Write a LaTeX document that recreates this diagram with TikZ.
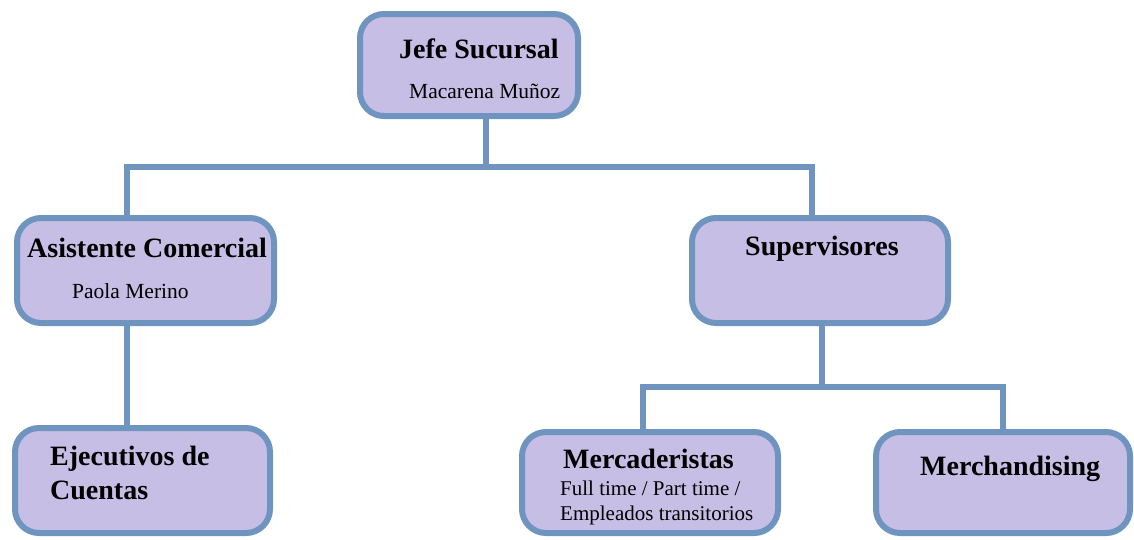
\documentclass[tikz,border=0pt]{standalone}
\usepackage{fontspec}
\setmainfont{Liberation Serif}
\definecolor{boxline}{RGB}{112,148,192}
\definecolor{boxfill}{RGB}{198,190,229}
\tikzset{
  orgbox/.style={draw=boxline, fill=boxfill, line width=6pt, rounded corners=24pt, inner sep=0pt},
  conn/.style={draw=boxline, line width=6pt},
  ttl/.style={anchor=base west, inner sep=0pt, font=\fontsize{28}{32}\selectfont\bfseries},
  sub/.style={anchor=base west, inner sep=0pt, font=\fontsize{21.5}{25}\selectfont},
  sub2/.style={anchor=base west, inner sep=0pt, font=\fontsize{21}{25}\selectfont},
}
\begin{document}
\begin{tikzpicture}[x=1pt,y=-1pt]
\useasboundingbox (0,0) rectangle (1134,539);
% boxes
\node[orgbox, minimum width=218pt, minimum height=102pt] (jefe) at (469,65) {};
\node[orgbox, minimum width=257pt, minimum height=105pt] (asist) at (145.5,270.5) {};
\node[orgbox, minimum width=256pt, minimum height=105pt] (sup) at (820,270.5) {};
\node[orgbox, minimum width=255pt, minimum height=105pt] (ejec) at (142.5,480.5) {};
\node[orgbox, minimum width=256pt, minimum height=101pt] (merc) at (650,482.5) {};
\node[orgbox, minimum width=254pt, minimum height=101pt] (merch) at (1003,482.5) {};
% junctions
\coordinate (j1) at (486,167);
\coordinate (c1) at (127,167);
\coordinate (c2) at (812,167);
\coordinate (j2) at (822,387);
\coordinate (d1) at (643,387);
\coordinate (d2) at (1003,387);
\coordinate (e1) at (127,0);
% connectors
\draw[conn] (j1 |- jefe.south) -- (j1);
\draw[conn] (c1 |- asist.north) -- (c1) -- (c2) -- (c2 |- sup.north);
\draw[conn] (j2 |- sup.south) -- (j2);
\draw[conn] (d1 |- merc.north) -- (d1) -- (d2) -- (d2 |- merch.north);
\draw[conn] (e1 |- asist.south) -- (e1 |- ejec.north);
% texts
\node[ttl] (t1) at (399,58) {Jefe Sucursal};
\node[sub] (s1) at (409,98) {Macarena Muñoz};
\node[ttl] (t2) at (27,257) {Asistente Comercial};
\node[sub] (s2) at (72,298) {Paola Merino};
\node[ttl] (t3) at (745,255) {Supervisores};
\node[ttl] (t4) at (50,465) {Ejecutivos de};
\node[ttl] (t5) at (50,499) {Cuentas};
\node[ttl] (t6) at (563,468) {Mercaderistas};
\node[sub2] (s6) at (560,495) {Full time / Part time /};
\node[sub2] (s7) at (560,520) {Empleados transitorios};
\node[ttl] (t8) at (920,475) {Merchandising};
\end{tikzpicture}
\end{document}
